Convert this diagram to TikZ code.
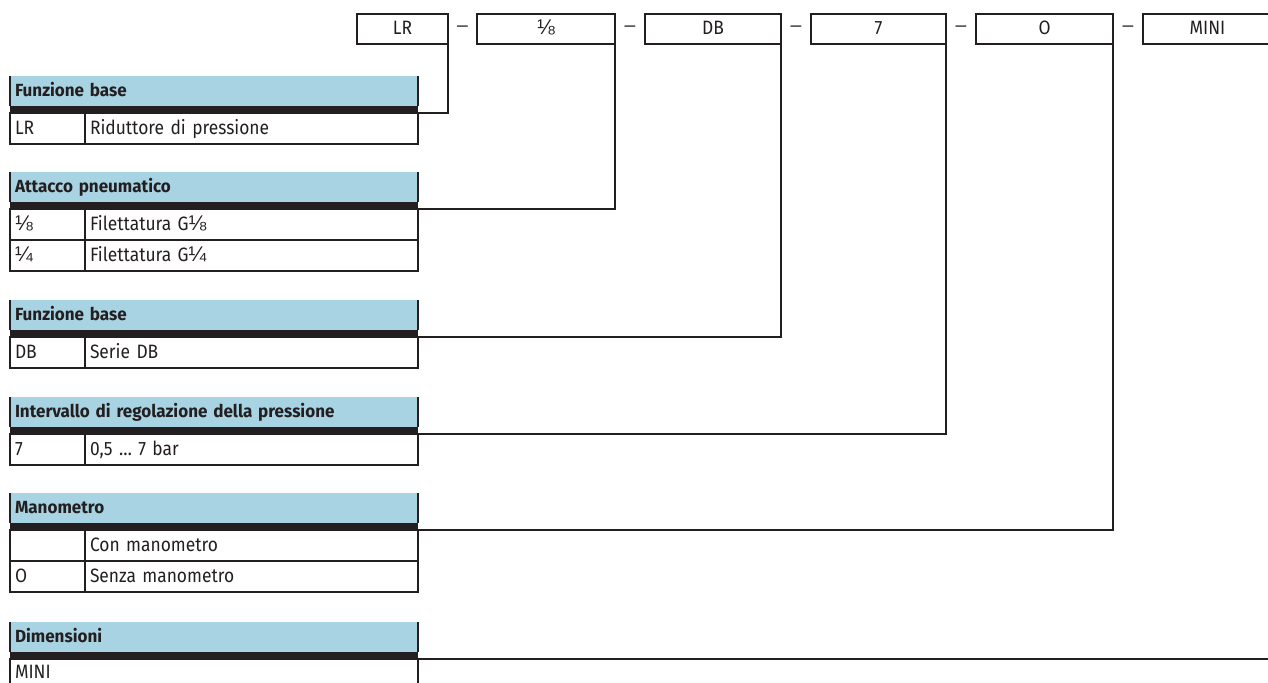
\documentclass[tikz,border=0pt]{standalone}
\usepackage{fontspec}
\setmainfont{Fira Sans}[FakeStretch=0.9, BoldFeatures={FakeStretch=0.97}]
\newfontfamily\fracfont{Liberation Sans}[Scale=1.1]
\newcommand{\eighth}{{\fracfont ⅛}}
\newcommand{\quarter}{{\fracfont ¼}}
\usetikzlibrary{positioning, calc}

\definecolor{hdrblue}{RGB}{168,211,227}
\definecolor{ink}{RGB}{35,31,32}

\tikzset{
  codebox/.style={draw=ink, line width=0.4mm, minimum height=6mm, inner sep=0pt, outer sep=0pt, text height=2.7mm, text depth=0.5mm},
  hyph/.style={inner sep=0pt, text=ink, font=\fracfont},
  hdr/.style={anchor=north west, fill=hdrblue, minimum width=81.6mm, minimum height=6mm, text width=79.6mm, inner xsep=1mm, inner ysep=0pt, outer sep=0pt, align=left, font=\bfseries, text height=2.7mm, text depth=0.5mm},
  bar/.style={anchor=north west, fill=ink, minimum width=81.6mm, minimum height=1.4mm, inner sep=0pt, outer sep=0pt},
  cell/.style={draw=ink, line width=0.4mm, minimum height=6.2mm, inner xsep=1mm, inner ysep=0pt, outer sep=0pt, align=left, text height=2.7mm, text depth=0.5mm},
  key/.style={cell, anchor=north west, text width=13mm},
  val/.style={cell, text width=64.6mm},
  link/.style={draw=ink, line width=0.4mm},
}

\begin{document}
\begin{tikzpicture}[x=0.2mm, y=-0.2mm, font=\fontsize{11}{13}\selectfont, text=ink]
  \useasboundingbox (0,0) rectangle (1268,682);
  \clip (0,0) rectangle (1268,682);

  % order code
  \node[codebox, minimum width=18.2mm] (cLR) at (402.5,29) {LR};
  \node[codebox, minimum width=27.6mm] (c18) at (546,29) {\eighth};
  \node[codebox, minimum width=27.2mm] (cDB) at (713,29) {DB};
  \node[codebox, minimum width=27mm] (c7) at (878.5,29) {7};
  \node[codebox, minimum width=27.4mm] (cO) at (1044.5,29) {O};
  \node[codebox, minimum width=25.8mm] (cMINI) at (1207.5,29) {MINI};
  \foreach \a/\b [count=\i] in {cLR/c18, c18/cDB, cDB/c7, c7/cO, cO/cMINI}
    \node[hyph] (d\i) at ($(\a.east)!0.5!(\b.west)$) {–};

  % Funzione base
  \node[hdr] (h1) at (10,76) {Funzione base};
  \node[bar] (b1) at (h1.south west) {};
  \node[key] (k1) at (b1.south west) {LR};
  \node[val, right=0pt of k1] (v1) {Riduttore di pressione};
  \draw[link] (h1.north west) -- (h1.south west) (h1.north east) -- (h1.south east);

  % Attacco pneumatico
  \node[hdr] (h2) at (10,172) {Attacco pneumatico};
  \node[bar] (b2) at (h2.south west) {};
  \node[key] (k2a) at (b2.south west) {\eighth};
  \node[val, right=0pt of k2a] (v2a) {Filettatura G\eighth};
  \node[key, below=0pt of k2a] (k2b) {\quarter};
  \node[val, right=0pt of k2b] (v2b) {Filettatura G\quarter};
  \draw[link] (h2.north west) -- (h2.south west) (h2.north east) -- (h2.south east);

  % Funzione base (serie)
  \node[hdr] (h3) at (10,300) {Funzione base};
  \node[bar] (b3) at (h3.south west) {};
  \node[key] (k3) at (b3.south west) {DB};
  \node[val, right=0pt of k3] (v3) {Serie DB};
  \draw[link] (h3.north west) -- (h3.south west) (h3.north east) -- (h3.south east);

  % Intervallo di regolazione
  \node[hdr] (h4) at (10,397) {Intervallo di regolazione della pressione};
  \node[bar] (b4) at (h4.south west) {};
  \node[key] (k4) at (b4.south west) {7};
  \node[val, right=0pt of k4] (v4) {0,5 … 7 bar};
  \draw[link] (h4.north west) -- (h4.south west) (h4.north east) -- (h4.south east);

  % Manometro
  \node[hdr] (h5) at (10,493) {Manometro};
  \node[bar] (b5) at (h5.south west) {};
  \node[key] (k5a) at (b5.south west) {};
  \node[val, right=0pt of k5a] (v5a) {Con manometro};
  \node[key, below=0pt of k5a] (k5b) {O};
  \node[val, right=0pt of k5b] (v5b) {Senza manometro};
  \draw[link] (h5.north west) -- (h5.south west) (h5.north east) -- (h5.south east);

  % Dimensioni (row cut by the page edge)
  \node[hdr] (h6) at (10,622) {Dimensioni};
  \node[bar] (b6) at (h6.south west) {};
  \node[cell, anchor=north west, text width=79.6mm, minimum height=5.2mm, text depth=0pt] (k6) at (b6.south west) {MINI};
  \draw[link] (h6.north west) -- (h6.south west) (h6.north east) -- (h6.south east);

  % connectors to the order code
  \draw[link] (b1.south east) -| (cLR.south east);
  \draw[link] (b2.south east) -| (c18.south east);
  \draw[link] (b3.south east) -| (cDB.south east);
  \draw[link] (b4.south east) -| (c7.south east);
  \draw[link] (b5.south east) -| (cO.south east);
  \draw[link] (b6.south east) -| (cMINI.south east);
\end{tikzpicture}
\end{document}
